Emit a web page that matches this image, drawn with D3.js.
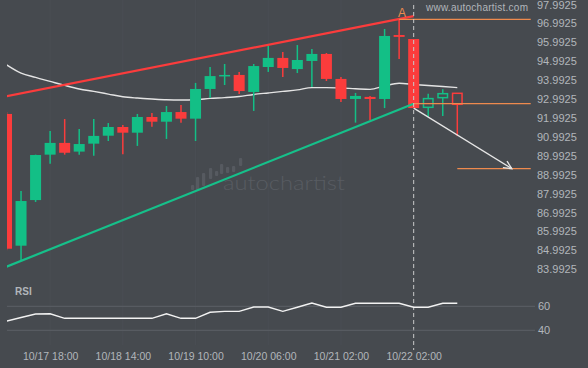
<!DOCTYPE html>
<html><head><meta charset="utf-8">
<script src="https://cdn.jsdelivr.net/npm/d3@7"></script>
<style>
html,body{margin:0;padding:0;background:#464a4f;}
svg{display:block;}
</style></head>
<body>
<svg id="chart" width="588" height="368"></svg>
<script>
// ---- data ----
const opens  = [92.20,85.24,87.65,90.05,90.67,90.21,90.63,91.05,91.51,91.21,92.04,91.79,92.30,91.95,93.52,94.23,94.26,93.36,94.68,95.16,94.57,95.00,95.37,94.05,92.99,93.10,92.99,96.37,96.16,92.55,93.06,93.29];
const highs  = [92.30,88.13,90.05,91.30,91.93,91.41,91.93,91.72,91.62,92.20,92.25,92.62,92.67,93.84,94.68,94.84,94.42,94.84,95.79,95.47,95.84,95.63,95.42,94.15,93.31,93.15,96.69,97.22,96.16,93.27,93.50,93.29];
const lows   = [85.00,84.45,87.55,89.57,90.05,90.05,89.99,90.77,90.07,90.51,91.53,90.88,91.74,90.77,93.04,93.73,93.25,92.36,94.42,94.15,94.36,93.62,93.94,92.83,91.74,91.88,92.51,95.10,92.51,92.05,92.09,91.03];
const closes = [85.08,87.60,90.03,90.67,90.15,90.61,91.04,91.51,91.21,92.04,91.79,92.30,91.95,93.52,94.20,94.26,93.41,94.73,95.16,94.63,95.05,95.37,94.05,92.99,93.15,92.99,96.32,96.27,92.51,93.01,93.27,92.71];
const movingAvg = [94.80,94.36,94.13,93.92,93.71,93.52,93.39,93.25,93.11,93.04,92.99,92.95,92.94,92.95,93.02,93.06,93.12,93.23,93.31,93.39,93.47,93.59,93.59,93.57,93.53,93.50,93.68,93.82,93.76,93.70,93.65,93.59];
const rsiValues = [47.7,50.7,53.6,53.8,50.0,50.0,50.0,50.0,50.0,50.0,50.0,53.8,50.0,50.0,55.0,55.8,55.8,59.4,59.4,55.8,59.2,62.7,59.2,59.2,62.5,62.5,62.5,62.5,59.2,59.2,62.5,62.5];
const hollowFrom = 29; // candles after pattern completion drawn hollow
const priceTicks = [97.9925,96.9925,95.9925,94.9925,93.9925,92.9925,91.9925,90.9925,89.9925,88.9925,87.9925,86.9925,85.9925,84.9925,83.9925];
const rsiTicks = [60,40];
const timeTickIdx = [3,8,13,18,23,28];
const timeTickLabels = ["10/17 18:00","10/18 14:00","10/19 10:00","10/20 06:00","10/21 02:00","10/22 02:00"];
// pattern (index, price)
const resistance = [[0,93.13],[28,97.37]];
const support = [[0,84.13],[28,92.74]];
const levelA = {from:27, to:36.05, price:97.20};
const levelB = {from:28, to:36.05, price:92.74};
const targetLevel = {from:31, to:36.05, price:89.31};
const forecast = [[28,92.51],[34.75,89.31]];
const completionIdx = 28;
const watermarkBars = [[191,185,190],[196,177,190],[202,173,186],[209,168,179],[215,171,176],[220,164,174],[226,167,173],[232,166,172],[239,158,166]];

// ---- setup ----
const svg = d3.select("#chart");
const W = 588, H = 368;
const bg = "#464a4f", green = "#13bf86", red = "#fb3c3c", orange = "#ee8a4e", txt = "#b2b6bb";
svg.append("rect").attr("width",W).attr("height",H).attr("fill",bg);

const plotLeft = 7, plotRight = 535;
const x = d3.scaleLinear().domain([0,31]).range([6.5,457.3]);
const y = d3.scaleLinear().domain([83.9925,97.9925]).range([269.3,4.3]);
const yr = d3.scaleLinear().domain([40,60]).range([330.3,306.3]);

svg.append("clipPath").attr("id","clip").append("rect")
  .attr("x",plotLeft).attr("y",0).attr("width",plotRight-plotLeft).attr("height",278);

// faint vertical grid
svg.append("g").selectAll("line").data(timeTickIdx).join("line")
  .attr("x1",d=>x(d)).attr("x2",d=>x(d)).attr("y1",0).attr("y2",345)
  .attr("stroke","#4a4e54").attr("stroke-width",1);

// watermark
const wm = svg.append("g");
wm.selectAll("rect").data(watermarkBars).join("rect")
  .attr("x",d=>d[0]).attr("y",d=>d[1]).attr("width",3.2).attr("height",d=>d[2]-d[1])
  .attr("rx",1).attr("fill","#565a60");
wm.append("text").attr("x",223).attr("y",190).attr("textLength",122).attr("lengthAdjust","spacingAndGlyphs")
  .attr("font-family","Lato, 'Open Sans', sans-serif").attr("font-weight",300).attr("font-size",19)
  .attr("fill","#585c62").text("autochartist");

const plot = svg.append("g").attr("clip-path","url(#clip)");

// moving average
plot.append("path").datum(movingAvg)
  .attr("d",d3.line().x((d,i)=>x(i)).y(d=>y(d)).curve(d3.curveMonotoneX))
  .attr("fill","none").attr("stroke","#e4e4e4").attr("stroke-width",1.4);

// candles
const cw = 11;
const candles = plot.selectAll("g.c").data(opens.map((o,i)=>({i,o,h:highs[i],l:lows[i],c:closes[i]}))).join("g");
candles.append("line")
  .attr("x1",d=>x(d.i)).attr("x2",d=>x(d.i))
  .attr("y1",d=>y(d.h)).attr("y2",d=>d.i>=hollowFrom ? y(Math.max(d.o,d.c)) : y(d.l))
  .attr("stroke",d=>d.c>=d.o?green:red).attr("stroke-width",1.5);
candles.filter(d=>d.i>=hollowFrom).append("line")
  .attr("x1",d=>x(d.i)).attr("x2",d=>x(d.i))
  .attr("y1",d=>y(Math.min(d.o,d.c))).attr("y2",d=>y(d.l))
  .attr("stroke",d=>d.c>=d.o?green:red).attr("stroke-width",1.5);
candles.append("rect")
  .attr("x",d=>x(d.i)-cw/2+(d.i>=hollowFrom?0.75:0))
  .attr("width",d=>d.i>=hollowFrom?cw-1.5:cw)
  .attr("y",d=>y(Math.max(d.o,d.c)))
  .attr("height",d=>Math.max(1.5,Math.abs(y(d.o)-y(d.c))))
  .attr("fill",d=>d.i>=hollowFrom?"none":(d.c>=d.o?green:red))
  .attr("stroke",d=>d.i>=hollowFrom?(d.c>=d.o?green:red):"none")
  .attr("stroke-width",1.5);

// pattern lines
const pline = d3.line().x(d=>x(d[0])).y(d=>y(d[1]));
plot.append("path").attr("d",pline(resistance)).attr("stroke",red).attr("stroke-width",2.2).attr("fill","none");
plot.append("path").attr("d",pline(support)).attr("stroke","#16c08a").attr("stroke-width",2.2).attr("fill","none");

// levels
[levelA,levelB,targetLevel].forEach(l=>{
  svg.append("line").attr("x1",x(l.from)).attr("x2",x(l.to)).attr("y1",y(l.price)).attr("y2",y(l.price))
    .attr("stroke",orange).attr("stroke-width",1.2);
});
svg.append("text").attr("x",x(levelA.from)+3).attr("y",y(levelA.price)-2)
  .attr("text-anchor","middle").attr("font-family","Liberation Sans, Arial, sans-serif")
  .attr("font-size",12).attr("fill",orange).text("A");

// vertical dashed completion line
svg.append("line").attr("x1",x(completionIdx)).attr("x2",x(completionIdx)).attr("y1",5).attr("y2",350)
  .attr("stroke","#c9c9c9").attr("stroke-width",1).attr("stroke-dasharray","4,3");

// forecast arrow
const fa = forecast.map(d=>[x(d[0]),y(d[1])]);
svg.append("line").attr("x1",fa[0][0]).attr("y1",fa[0][1]).attr("x2",fa[1][0]).attr("y2",fa[1][1])
  .attr("stroke","#e6e6e6").attr("stroke-width",1.3);
const ang = Math.atan2(fa[1][1]-fa[0][1], fa[1][0]-fa[0][0]);
const ah = 9, spread = 0.45;
svg.append("path")
  .attr("d",`M${fa[1][0]-ah*Math.cos(ang-spread)},${fa[1][1]-ah*Math.sin(ang-spread)}L${fa[1][0]},${fa[1][1]}L${fa[1][0]-ah*Math.cos(ang+spread)},${fa[1][1]-ah*Math.sin(ang+spread)}`)
  .attr("fill","none").attr("stroke","#e6e6e6").attr("stroke-width",1.3);

// price axis labels
const yAxis = d3.axisRight(y).tickValues(priceTicks).tickFormat(d3.format(".4f")).tickSize(0).tickPadding(0);
const ya = svg.append("g").attr("transform",`translate(537,0)`).call(yAxis);
ya.select(".domain").remove();
ya.selectAll("text").attr("fill",txt).attr("font-family","Liberation Sans, Arial, sans-serif").attr("font-size",11);
ya.selectAll(".tick").filter(d=>d===priceTicks[0]).select("text").attr("dy","0.4em");

// website
svg.append("text").attr("x",426).attr("y",11).attr("font-family","Liberation Sans, Arial, sans-serif")
  .attr("font-size",10).attr("letter-spacing",0.25).attr("fill",txt).text("www.autochartist.com");

// RSI panel
svg.append("g").selectAll("line").data(rsiTicks).join("line")
  .attr("x1",plotLeft).attr("x2",plotRight).attr("y1",d=>yr(d)).attr("y2",d=>yr(d))
  .attr("stroke","#5c6066").attr("stroke-width",1);
const rAxis = d3.axisRight(yr).tickValues(rsiTicks).tickSize(0).tickPadding(0);
const ra = svg.append("g").attr("transform",`translate(538,0)`).call(rAxis);
ra.select(".domain").remove();
ra.selectAll("text").attr("fill",txt).attr("font-family","Liberation Sans, Arial, sans-serif").attr("font-size",11);
svg.append("text").attr("x",15).attr("y",295).attr("font-family","Liberation Sans, Arial, sans-serif")
  .attr("font-weight","bold").attr("font-size",10).attr("fill",txt).text("RSI");
svg.append("clipPath").attr("id","clip2").append("rect").attr("x",plotLeft).attr("y",280).attr("width",plotRight-plotLeft).attr("height",70);
svg.append("path").datum(rsiValues)
  .attr("d",d3.line().x((d,i)=>x(i)).y(d=>yr(d)))
  .attr("clip-path","url(#clip2)")
  .attr("fill","none").attr("stroke","#f2f2f2").attr("stroke-width",1.4);

// time axis
const xAxis = d3.axisBottom(x).tickValues(timeTickIdx).tickFormat((d,i)=>timeTickLabels[i]).tickSize(0).tickPadding(0);
const xa = svg.append("g").attr("transform","translate(0,353)").call(xAxis);
xa.select(".domain").remove();
xa.selectAll("text").attr("fill",txt).attr("font-family","Liberation Sans, Arial, sans-serif").attr("font-size",10.5);
</script>
</body></html>
